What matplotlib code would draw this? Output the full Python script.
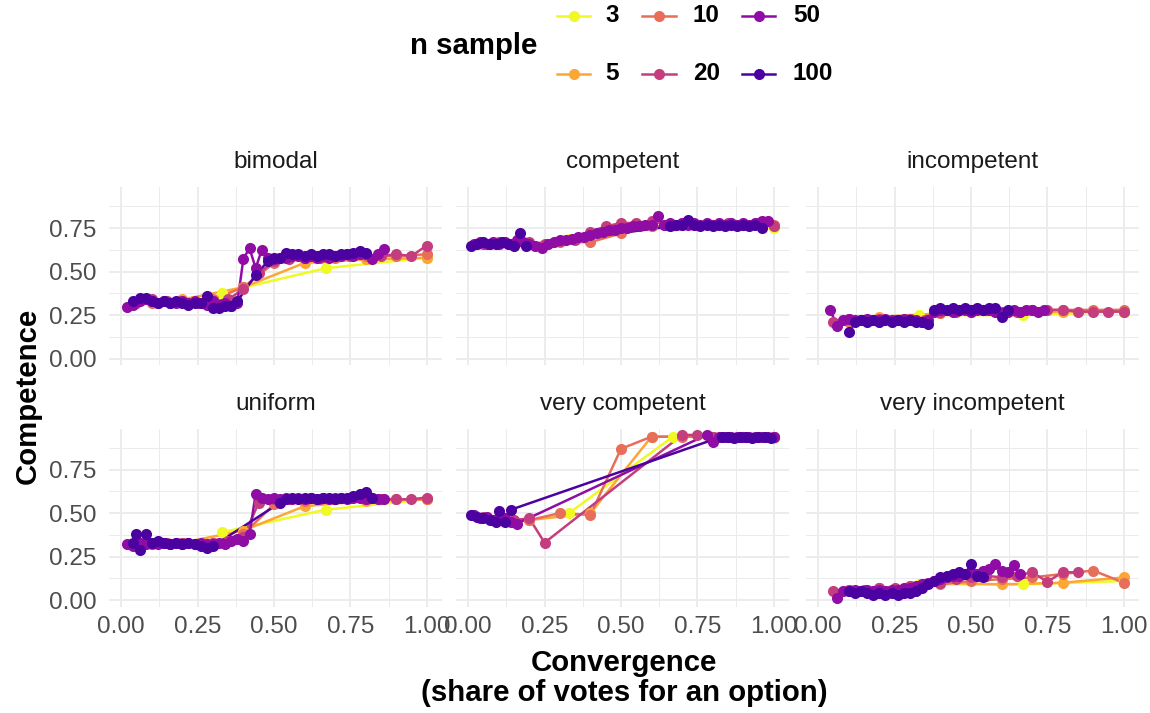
import numpy as np
import matplotlib.pyplot as plt

plt.rcParams['font.family'] = ['Liberation Sans', 'DejaVu Sans']

panel_names = ['bimodal', 'competent', 'incompetent',
               'uniform', 'very competent', 'very incompetent']
n_sample = [3, 5, 10, 20, 50, 100]
colors = ['#F0F921', '#FCA636', '#E76F5A', '#C43E7F', '#8F0DA4', '#4C02A1']

x3 = [0.33, 0.67, 1.0]
x5 = [0.2, 0.4, 0.6, 0.8, 1.0]
x10 = [0.1, 0.2, 0.3, 0.4, 0.5, 0.6, 0.7, 0.8, 0.9, 1.0]
x20 = [0.05, 0.1, 0.15, 0.2, 0.25, 0.3, 0.35, 0.4, 0.45, 0.5,
       0.55, 0.6, 0.65, 0.7, 0.75, 0.8, 0.85, 0.9, 0.95, 1.0]

# bimodal
bim_y3 = [0.38, 0.52, 0.58]
bim_y5 = [0.34, 0.41, 0.55, 0.57, 0.58]
bim_y10 = [0.32, 0.33, 0.34, 0.41, 0.55, 0.58, 0.58, 0.59, 0.59, 0.60]
bim_y20 = [0.32, 0.34, 0.33, 0.33, 0.32, 0.33, 0.34, 0.40, 0.49, 0.56,
           0.57, 0.58, 0.58, 0.59, 0.59, 0.60, 0.59, 0.60, 0.59, 0.65]
bim_x50 = [0.02, 0.04, 0.06, 0.08, 0.10, 0.12, 0.14, 0.16, 0.18, 0.20, 0.22,
           0.24, 0.26, 0.28, 0.30, 0.32, 0.34, 0.36, 0.38, 0.40, 0.42, 0.44,
           0.46, 0.48, 0.50, 0.52, 0.54, 0.56, 0.58, 0.60, 0.62, 0.64, 0.66,
           0.68, 0.70, 0.72, 0.74, 0.76, 0.78, 0.80, 0.82, 0.84, 0.86]
bim_y50 = [0.295, 0.31, 0.33, 0.34, 0.33, 0.32, 0.33, 0.32, 0.32, 0.33, 0.32,
           0.33, 0.32, 0.31, 0.33, 0.31, 0.32, 0.30, 0.32, 0.575, 0.635, 0.52,
           0.625, 0.58, 0.57, 0.58, 0.58, 0.59, 0.59, 0.58, 0.59, 0.58, 0.59,
           0.58, 0.59, 0.59, 0.60, 0.59, 0.60, 0.60, 0.57, 0.60, 0.63]
bim_x100 = [0.04, 0.06, 0.08, 0.10, 0.12, 0.14, 0.16, 0.18, 0.20, 0.22, 0.24,
            0.26, 0.28, 0.30, 0.32, 0.34, 0.36, 0.38, 0.44, 0.48, 0.50, 0.52,
            0.54, 0.56, 0.58, 0.60, 0.62, 0.64, 0.66, 0.68, 0.70, 0.72, 0.74,
            0.76, 0.78, 0.80]
bim_y100 = [0.33, 0.35, 0.35, 0.33, 0.32, 0.33, 0.32, 0.33, 0.32, 0.31, 0.32,
            0.32, 0.36, 0.29, 0.29, 0.30, 0.30, 0.33, 0.48, 0.56, 0.58, 0.58,
            0.61, 0.60, 0.60, 0.59, 0.60, 0.59, 0.60, 0.60, 0.59, 0.60, 0.60,
            0.61, 0.62, 0.61]

# competent
com_y3 = [0.69, 0.76, 0.75]
com_y5 = [0.66, 0.70, 0.76, 0.77, 0.76]
com_y10 = [0.66, 0.66, 0.67, 0.67, 0.72, 0.76, 0.77, 0.77, 0.77, 0.77]
com_y20 = [0.66, 0.67, 0.66, 0.67, 0.66, 0.675, 0.68, 0.73, 0.76, 0.78,
           0.78, 0.79, 0.77, 0.78, 0.77, 0.77, 0.78, 0.77, 0.78, 0.765]
com_x50 = [0.02, 0.04, 0.06, 0.08, 0.10, 0.12, 0.14, 0.16, 0.18, 0.20, 0.22,
           0.24, 0.26, 0.28, 0.30, 0.32, 0.34, 0.36, 0.38, 0.40, 0.42, 0.44,
           0.46, 0.48, 0.50, 0.52, 0.54, 0.56, 0.58, 0.60, 0.62, 0.64, 0.66,
           0.68, 0.70, 0.72, 0.74, 0.76, 0.78, 0.80, 0.82, 0.84, 0.86, 0.88,
           0.90, 0.92, 0.94, 0.96, 0.98]
com_y50 = [0.66, 0.67, 0.66, 0.67, 0.66, 0.67, 0.66, 0.68, 0.67, 0.66, 0.65,
           0.635, 0.66, 0.67, 0.68, 0.68, 0.69, 0.70, 0.70, 0.71, 0.72, 0.73,
           0.74, 0.74, 0.75, 0.75, 0.76, 0.76, 0.77, 0.77, 0.82, 0.77, 0.78,
           0.77, 0.78, 0.77, 0.78, 0.77, 0.78, 0.77, 0.78, 0.77, 0.78, 0.77,
           0.78, 0.77, 0.78, 0.79, 0.79]
com_x100 = [0.01, 0.03, 0.05, 0.07, 0.09, 0.11, 0.13, 0.15, 0.17, 0.19,
            0.66, 0.68, 0.70, 0.72, 0.74, 0.76, 0.78, 0.80, 0.82, 0.84, 0.86,
            0.88, 0.90, 0.92, 0.94, 0.96]
com_y100 = [0.65, 0.66, 0.67, 0.66, 0.66, 0.67, 0.66, 0.65, 0.72, 0.65,
            0.76, 0.77, 0.77, 0.80, 0.77, 0.76, 0.77, 0.76, 0.77, 0.76, 0.77,
            0.76, 0.77, 0.76, 0.77, 0.75]

# incompetent
inc_y3 = [0.25, 0.25, 0.27]
inc_y5 = [0.24, 0.26, 0.26, 0.27, 0.27]
inc_y10 = [0.21, 0.23, 0.23, 0.26, 0.27, 0.26, 0.28, 0.28, 0.28, 0.28]
inc_y20 = [0.21, 0.23, 0.22, 0.23, 0.22, 0.23, 0.22, 0.27, 0.27, 0.28,
           0.28, 0.27, 0.27, 0.28, 0.28, 0.28, 0.27, 0.27, 0.27, 0.27]
inc_x50 = [0.04, 0.06, 0.08, 0.10, 0.12, 0.14, 0.16, 0.18, 0.20, 0.22, 0.24,
           0.26, 0.28, 0.30, 0.32, 0.34, 0.36, 0.38, 0.40, 0.42, 0.44, 0.46,
           0.48, 0.50, 0.52, 0.54, 0.56, 0.58, 0.60, 0.62, 0.64, 0.66, 0.68,
           0.70, 0.72, 0.74]
inc_y50 = [0.28, 0.19, 0.22, 0.23, 0.22, 0.22, 0.23, 0.22, 0.22, 0.23, 0.22,
           0.22, 0.23, 0.22, 0.22, 0.21, 0.22, 0.27, 0.28, 0.28, 0.27, 0.28,
           0.28, 0.27, 0.28, 0.28, 0.28, 0.27, 0.26, 0.27, 0.28, 0.27, 0.28,
           0.28, 0.27, 0.28]
inc_x100 = [0.10, 0.12, 0.14, 0.16, 0.18, 0.20, 0.22, 0.24, 0.26, 0.28, 0.30,
            0.32, 0.34, 0.36, 0.38, 0.40, 0.42, 0.44, 0.46, 0.48, 0.50, 0.52,
            0.54, 0.56, 0.58, 0.60, 0.62]
inc_y100 = [0.15, 0.21, 0.22, 0.21, 0.22, 0.21, 0.22, 0.21, 0.22, 0.21, 0.22,
            0.21, 0.21, 0.20, 0.28, 0.29, 0.28, 0.29, 0.28, 0.29, 0.28, 0.29,
            0.28, 0.29, 0.29, 0.24, 0.28]

# uniform
uni_y3 = [0.39, 0.52, 0.58]
uni_y5 = [0.33, 0.40, 0.54, 0.57, 0.58]
uni_y10 = [0.32, 0.33, 0.33, 0.38, 0.55, 0.57, 0.58, 0.58, 0.58, 0.58]
uni_y20 = [0.33, 0.32, 0.33, 0.33, 0.32, 0.33, 0.34, 0.36, 0.56, 0.58,
           0.58, 0.58, 0.58, 0.58, 0.59, 0.58, 0.58, 0.58, 0.58, 0.59]
uni_x50 = [0.02, 0.04, 0.06, 0.08, 0.10, 0.12, 0.14, 0.16, 0.18, 0.20, 0.22,
           0.24, 0.26, 0.28, 0.30, 0.32, 0.34, 0.36, 0.38, 0.40, 0.42, 0.44,
           0.46, 0.48, 0.50, 0.52, 0.54, 0.56, 0.58, 0.60, 0.62, 0.64, 0.66,
           0.68, 0.70, 0.72, 0.74, 0.76, 0.78, 0.80, 0.82, 0.84, 0.86]
uni_y50 = [0.32, 0.31, 0.33, 0.32, 0.33, 0.32, 0.33, 0.32, 0.33, 0.32, 0.33,
           0.32, 0.33, 0.32, 0.32, 0.33, 0.32, 0.34, 0.35, 0.34, 0.38, 0.61,
           0.59, 0.58, 0.59, 0.58, 0.59, 0.58, 0.59, 0.58, 0.59, 0.58, 0.59,
           0.58, 0.59, 0.59, 0.58, 0.59, 0.59, 0.58, 0.59, 0.58, 0.58]
uni_x100 = [0.04, 0.05, 0.06, 0.08, 0.10, 0.12, 0.14, 0.16, 0.18, 0.20, 0.22,
            0.24, 0.26, 0.28, 0.30, 0.52, 0.54, 0.56, 0.58, 0.60, 0.62, 0.64,
            0.66, 0.68, 0.70, 0.72, 0.74, 0.76, 0.78, 0.80, 0.82]
uni_y100 = [0.33, 0.38, 0.29, 0.38, 0.33, 0.34, 0.33, 0.32, 0.33, 0.32, 0.33,
            0.32, 0.31, 0.30, 0.31, 0.56, 0.58, 0.59, 0.58, 0.59, 0.59, 0.58,
            0.59, 0.59, 0.58, 0.59, 0.59, 0.60, 0.61, 0.62, 0.59]

# very competent
vc_y3 = [0.50, 0.94, 0.93]
vc_y5 = [0.46, 0.50, 0.94, 0.94, 0.94]
vc_y10 = [0.47, 0.46, 0.50, 0.49, 0.87, 0.94, 0.94, 0.94, 0.94, 0.94]
vc_x20 = [0.05, 0.1, 0.15, 0.2, 0.25, 0.7, 0.75, 0.8, 0.85, 0.9, 0.95, 1.0]
vc_y20 = [0.48, 0.47, 0.46, 0.47, 0.33, 0.95, 0.95, 0.94, 0.94, 0.94, 0.94,
          0.94]
vc_x50 = [0.02, 0.04, 0.06, 0.08, 0.10, 0.12, 0.14, 0.16, 0.78, 0.80, 0.82,
          0.84, 0.86, 0.88, 0.90, 0.92, 0.94, 0.96, 0.98, 1.0]
vc_y50 = [0.49, 0.47, 0.48, 0.46, 0.48, 0.47, 0.45, 0.44, 0.95, 0.91, 0.94,
          0.94, 0.94, 0.94, 0.94, 0.94, 0.94, 0.94, 0.94, 0.94]
vc_x100 = [0.01, 0.03, 0.05, 0.07, 0.09, 0.10, 0.12, 0.14, 0.83, 0.85, 0.87,
           0.89, 0.91, 0.93, 0.95, 0.97, 0.99]
vc_y100 = [0.49, 0.48, 0.47, 0.46, 0.45, 0.515, 0.45, 0.52, 0.94, 0.94, 0.93,
           0.94, 0.94, 0.93, 0.94, 0.94, 0.93]

# very incompetent
vi_y3 = [0.09, 0.09, 0.11]
vi_y5 = [0.07, 0.10, 0.09, 0.10, 0.13]
vi_y10 = [0.06, 0.07, 0.08, 0.09, 0.11, 0.12, 0.13, 0.15, 0.17, 0.10]
vi_x20 = [0.05, 0.1, 0.15, 0.2, 0.25, 0.3, 0.35, 0.4, 0.45, 0.5, 0.55, 0.6,
          0.65, 0.7, 0.75, 0.8, 0.85]
vi_y20 = [0.055, 0.06, 0.06, 0.07, 0.07, 0.08, 0.09, 0.10, 0.12, 0.13, 0.14,
          0.13, 0.14, 0.16, 0.105, 0.16, 0.16]
vi_x50 = [0.06, 0.08, 0.10, 0.12, 0.14, 0.16, 0.18, 0.20, 0.22, 0.24, 0.26,
          0.28, 0.30, 0.32, 0.34, 0.36, 0.38, 0.40, 0.42, 0.44, 0.46, 0.48,
          0.50, 0.52, 0.54, 0.56, 0.58, 0.60, 0.62, 0.64, 0.66]
vi_y50 = [0.01, 0.05, 0.05, 0.06, 0.05, 0.06, 0.05, 0.06, 0.05, 0.06, 0.06,
          0.07, 0.07, 0.08, 0.09, 0.10, 0.11, 0.12, 0.13, 0.14, 0.14, 0.15,
          0.16, 0.15, 0.17, 0.18, 0.21, 0.17, 0.16, 0.20, 0.15]
vi_x100 = [0.10, 0.12, 0.14, 0.16, 0.18, 0.20, 0.22, 0.24, 0.26, 0.28, 0.30,
           0.32, 0.34, 0.36, 0.38, 0.40, 0.42, 0.44, 0.46, 0.48, 0.50, 0.52,
           0.54]
vi_y100 = [0.05, 0.04, 0.05, 0.04, 0.03, 0.04, 0.03, 0.04, 0.03, 0.04, 0.04,
           0.05, 0.07, 0.09, 0.11, 0.13, 0.14, 0.15, 0.16, 0.15, 0.205, 0.14,
           0.13]

series = {
    'bimodal': [(x3, bim_y3), (x5, bim_y5), (x10, bim_y10), (x20, bim_y20),
                (bim_x50, bim_y50), (bim_x100, bim_y100)],
    'competent': [(x3, com_y3), (x5, com_y5), (x10, com_y10), (x20, com_y20),
                  (com_x50, com_y50), (com_x100, com_y100)],
    'incompetent': [(x3, inc_y3), (x5, inc_y5), (x10, inc_y10), (x20, inc_y20),
                    (inc_x50, inc_y50), (inc_x100, inc_y100)],
    'uniform': [(x3, uni_y3), (x5, uni_y5), (x10, uni_y10), (x20, uni_y20),
                (uni_x50, uni_y50), (uni_x100, uni_y100)],
    'very competent': [(x3, vc_y3), (x5, vc_y5), (x10, vc_y10), (vc_x20, vc_y20),
                       (vc_x50, vc_y50), (vc_x100, vc_y100)],
    'very incompetent': [(x3, vi_y3), (x5, vi_y5), (x10, vi_y10), (vi_x20, vi_y20),
                         (vi_x50, vi_y50), (vi_x100, vi_y100)],
}

W, H = 1150, 713
fig = plt.figure(figsize=(W / 100, H / 100), dpi=100)

col_px = [(109, 442), (456, 789), (806, 1139)]
row_px = [(187, 365), (428.5, 606.5)]
grid_col = '#EBEBEB'
tick_fs = 17.5
title_fs = 21.2
ms = 8.0
lw = 1.8

for i, name in enumerate(panel_names):
    r, c = divmod(i, 3)
    x0, x1 = col_px[c]
    y0, y1 = row_px[r]
    ax = fig.add_axes([x0 / W, 1 - y1 / H, (x1 - x0) / W, (y1 - y0) / H])
    ax.set_xlim(-0.04, 1.05)
    ax.set_ylim(-0.037, 0.987)
    for s in ax.spines.values():
        s.set_visible(False)
    ax.set_xticks([0, 0.25, 0.5, 0.75, 1.0])
    ax.set_xticks([0.125, 0.375, 0.625, 0.875], minor=True)
    ax.set_yticks([0, 0.25, 0.5, 0.75])
    ax.set_yticks([0.125, 0.375, 0.625, 0.875], minor=True)
    ax.grid(which='major', color=grid_col, lw=1.3)
    ax.grid(which='minor', color=grid_col, lw=0.7)
    ax.set_axisbelow(True)
    ax.tick_params(which='both', length=0, labelsize=tick_fs, colors='#4D4D4D')
    ax.tick_params(axis='y', pad=9)
    ax.tick_params(axis='x', pad=7)
    if r == 0:
        ax.set_xticklabels([])
    else:
        ax.set_xticklabels(['0.00', '0.25', '0.50', '0.75', '1.00'])
    if c == 0:
        ax.set_yticklabels(['0.00', '0.25', '0.50', '0.75'])
    else:
        ax.set_yticklabels([])
    ax.text(0.5, 1 + 25 / (y1 - y0), name, transform=ax.transAxes,
            ha='center', va='center', fontsize=tick_fs, color='#1A1A1A')

    for k, (xs, ys) in enumerate(series[name]):
        ax.plot(xs, ys, '-', color=colors[k], lw=lw, zorder=2 + k * 0.01)
    for k, (xs, ys) in enumerate(series[name]):
        ax.plot(xs, ys, 'o', color=colors[k], ms=ms, mew=0, zorder=3 + k * 0.01)

# overlay in pixel coordinates for titles and legend
ov = fig.add_axes([0, 0, 1, 1], facecolor='none')
ov.set_xlim(0, W)
ov.set_ylim(H, 0)
ov.axis('off')

ov.text(28, 396, 'Competence', rotation=90, ha='center', va='center',
        fontsize=title_fs, fontweight='bold')
ov.text(624, 678, 'Convergence\n(share of votes for an option)', ha='center',
        va='center', fontsize=title_fs, fontweight='bold', linespacing=1.05)

ov.text(410, 46, 'n sample', ha='left', va='center', fontsize=title_fs,
        fontweight='bold')
key_x = [(557, 590), (642, 676), (742, 775)]
lab_x = [605, 693, 793]
row_y = [16, 74]
for k, n in enumerate(n_sample):
    c, r = divmod(k, 2)
    ov.plot(key_x[c], [row_y[r], row_y[r]], '-', color=colors[k], lw=lw)
    ov.plot([sum(key_x[c]) / 2], [row_y[r]], 'o', color=colors[k], ms=ms, mew=0)
    ov.text(lab_x[c], row_y[r], str(n), ha='left', va='center',
            fontsize=tick_fs, fontweight='bold')

fig.savefig('out.png', dpi=100)
